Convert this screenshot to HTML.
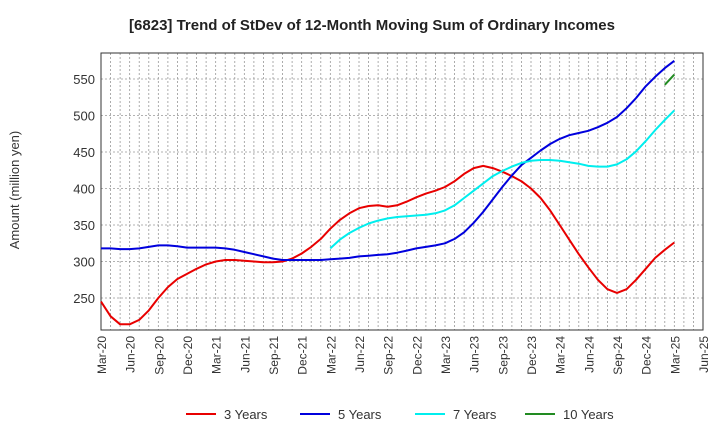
<!DOCTYPE html>
<html><head><meta charset="utf-8"><style>
body{margin:0;background:#fff;font-family:"Liberation Sans",Arial,sans-serif;}
</style></head><body>
<svg width="720" height="440" xmlns="http://www.w3.org/2000/svg" font-family="Liberation Sans, Arial, sans-serif">
<rect width="720" height="440" fill="#fff"/>
<text x="372" y="30" text-anchor="middle" font-size="15" font-weight="bold" fill="#222">[6823]  Trend of StDev of 12-Month Moving Sum of Ordinary Incomes</text>
<text transform="translate(19,190) rotate(-90)" text-anchor="middle" font-size="13" fill="#333">Amount (million yen)</text>
<g id="grid"></g>
<g id="axes"></g>
<g id="series"></g>
<g id="legend"></g>
</svg>
<script>
const yTicks=[250,300,350,400,450,500,550];
const xLabels=["Mar-20","Jun-20","Sep-20","Dec-20","Mar-21","Jun-21","Sep-21","Dec-21","Mar-22","Jun-22","Sep-22","Dec-22","Mar-23","Jun-23","Sep-23","Dec-23","Mar-24","Jun-24","Sep-24","Dec-24","Mar-25","Jun-25"];
const s3=[245,225,214,214,220,233,250,265,276,283,290,296,300,302,302,301,300,299,299,300,304,311,320,331,345,357,366,373,376,377,375,377,382,388,393,397,402,410,420,428,431,428,423,417,410,400,387,370,350,330,310,292,275,262,257,262,275,290,305,316,326];
const s5=[318,318,317,317,318,320,322,322,321,319,319,319,319,318,316,313,310,307,304,302,302,302,302,302,303,304,305,307,308,309,310,312,315,318,320,322,325,331,340,353,368,385,402,418,432,442,452,461,468,473,476,479,484,490,498,510,524,540,553,565,575];
const s7=[318,330,339,346,352,356,359,361,362,363,364,366,370,377,387,397,407,417,424,430,435,438,439,439,438,436,434,431,430,430,433,440,451,465,480,494,507];
const s7start=24;
const s10=[542,556];
const s10start=59;
const L=101,R=703,T=53,B=330;
const MONTHS=63;
const xm=i=>L+i*(R-L)/MONTHS;
const yv=v=>298-(v-250)*36.5/50;
const NS="http://www.w3.org/2000/svg";
function mk(tag,attrs,parent){const e=document.createElementNS(NS,tag);for(const k in attrs)e.setAttribute(k,attrs[k]);parent.appendChild(e);return e;}
const grid=document.getElementById('grid'),axes=document.getElementById('axes'),ser=document.getElementById('series'),leg=document.getElementById('legend');
for(let i=1;i<MONTHS;i++){const l=mk('line',{x1:xm(i),x2:xm(i),y1:T,y2:B,stroke:'#999','stroke-width':0.8,'stroke-dasharray':'2,2'},grid);

}
yTicks.forEach(v=>{const l=mk('line',{x1:L,x2:R,y1:yv(v),y2:yv(v),stroke:'#999','stroke-width':0.8,'stroke-dasharray':'2,2'},grid);


const t=mk('text',{x:L-6,y:yv(v)+5,'text-anchor':'end','font-size':13,fill:'#333'},axes);t.textContent=v;

});
const fr=mk('rect',{x:L,y:T,width:R-L,height:B-T,fill:'none',stroke:'#333','stroke-width':1},axes);


xLabels.forEach((s,i)=>{const x=xm(i*3);const t=mk('text',{transform:`translate(${x+5},${B+6}) rotate(-90)`,'text-anchor':'end','font-size':12,fill:'#333'},axes);t.textContent=s;

});
function line(arr,start,color,name){const p=arr.map((v,i)=>xm(start+i).toFixed(1)+','+yv(v).toFixed(1)).join(' ');
const e=mk('polyline',{points:p,fill:'none',stroke:color,'stroke-width':2,'stroke-linejoin':'round'},ser);

}
line(s3,0,'#e80000','series-3-years');
line(s5,0,'#0000dd','series-5-years');
line(s7,s7start,'#00eeee','series-7-years');
line(s10,s10start,'#228b22','series-10-years');
[['3 Years','#e80000',186],['5 Years','#0000dd',300],['7 Years','#00eeee',415],['10 Years','#228b22',525]].forEach(([n,c,x])=>{
const g=mk('g',{},leg);


mk('line',{x1:x,x2:x+30,y1:414,y2:414,stroke:c,'stroke-width':2},g);
const t=mk('text',{x:x+38,y:419,'font-size':13,fill:'#333'},g);t.textContent=n;});
</script>
</body></html>
